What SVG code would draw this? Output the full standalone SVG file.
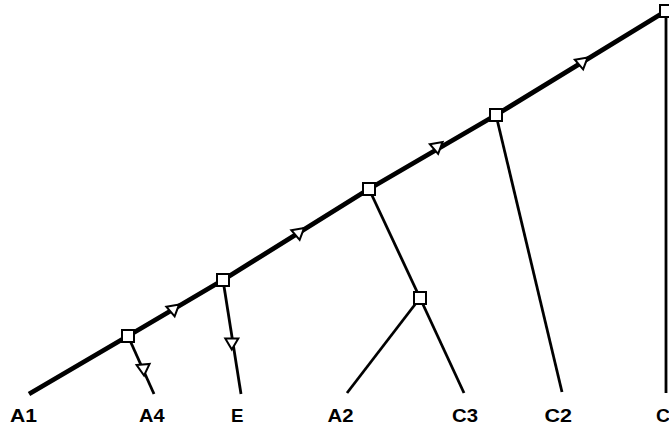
<svg xmlns="http://www.w3.org/2000/svg" width="669" height="427" viewBox="0 0 669 427">
<style>
.spine{fill:none;stroke:#000;stroke-width:4.8;stroke-linejoin:round}
.br{fill:none;stroke:#000;stroke-width:2.8}
.nd{fill:#fff;stroke:#000;stroke-width:2}
.ar{fill:#fff;stroke:#000;stroke-width:2;stroke-linejoin:miter}
.lb{font-family:"Liberation Sans",Arial,sans-serif;font-size:17.5px;font-weight:bold;fill:#000}
</style>
<defs>
<path id="tri" d="M-6.5,-4.5 L6.5,-4.5 L0,6.5 Z"/>
</defs>
<g id="connectors">
<polyline class="spine" points="29,394 128,336 223,280 369,189 496,115 666,11"/>
<line class="br" x1="128" y1="336" x2="154" y2="394"/>
<line class="br" x1="223" y1="280" x2="241" y2="394"/>
<line class="br" x1="369" y1="189" x2="420" y2="298"/>
<line class="br" x1="420" y1="298" x2="347" y2="393"/>
<line class="br" x1="420" y1="298" x2="464" y2="393"/>
<line class="br" x1="496" y1="115" x2="562" y2="392"/>
<line class="br" x1="666" y1="11" x2="666" y2="393"/>
<use href="#tri" class="ar" transform="translate(173.5,310) rotate(-10)"/>
<use href="#tri" class="ar" transform="translate(298.5,233.5) rotate(-10)"/>
<use href="#tri" class="ar" transform="translate(437,147.5) rotate(-10)"/>
<use href="#tri" class="ar" transform="translate(582,63) rotate(-10)"/>
<use href="#tri" class="ar" transform="translate(143.5,369) rotate(-5)"/>
<use href="#tri" class="ar" transform="translate(231.8,343)"/>
</g>
<g id="n1"><rect class="nd" x="122" y="330" width="12" height="12"/></g>
<g id="n2"><rect class="nd" x="217" y="274" width="12" height="12"/></g>
<g id="n3"><rect class="nd" x="363" y="183" width="12" height="12"/></g>
<g id="n4"><rect class="nd" x="490" y="109" width="12" height="12"/></g>
<g id="n5"><rect class="nd" x="660" y="5" width="12" height="12"/></g>
<g id="n6"><rect class="nd" x="414" y="292" width="12" height="12"/></g>
<g id="labels">
<text class="lb" x="10" y="421.5" textLength="27" lengthAdjust="spacingAndGlyphs">A1</text>
<text class="lb" x="139" y="421.5" textLength="25.5" lengthAdjust="spacingAndGlyphs">A4</text>
<text class="lb" x="231" y="421.5" textLength="12.5" lengthAdjust="spacingAndGlyphs">E</text>
<text class="lb" x="327.5" y="421.5" textLength="26" lengthAdjust="spacingAndGlyphs">A2</text>
<text class="lb" x="452" y="421.5" textLength="26" lengthAdjust="spacingAndGlyphs">C3</text>
<text class="lb" x="544.5" y="421.5" textLength="27.5" lengthAdjust="spacingAndGlyphs">C2</text>
<text class="lb" x="656" y="421.5" textLength="14" lengthAdjust="spacingAndGlyphs">C</text>
</g>
</svg>
